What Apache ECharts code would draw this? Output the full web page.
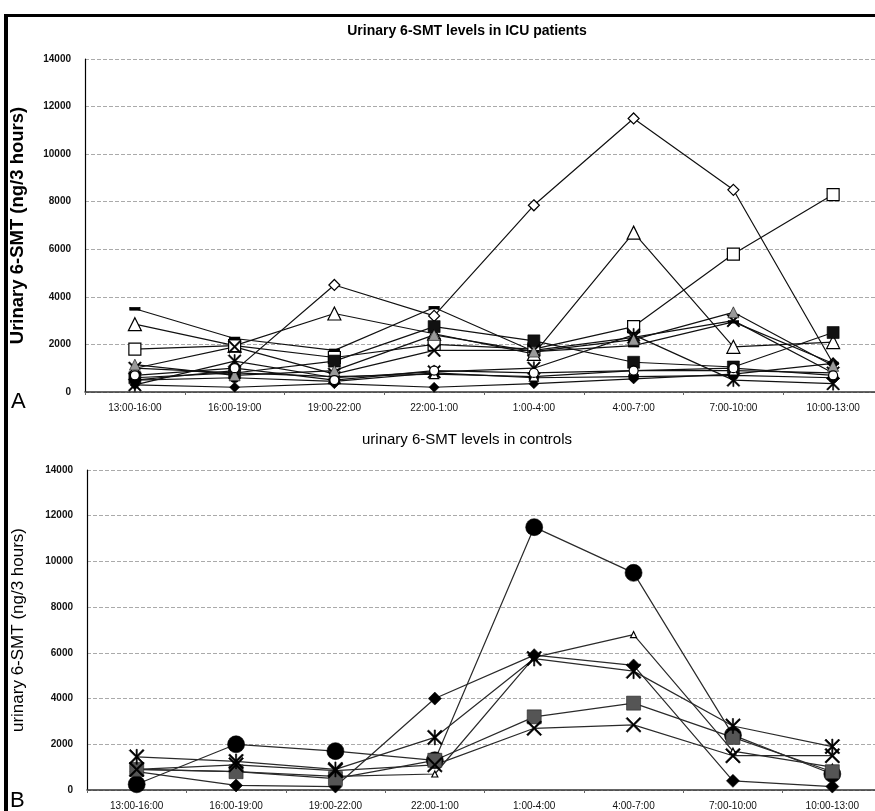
<!DOCTYPE html>
<html>
<head>
<meta charset="utf-8">
<title>Urinary 6-SMT levels</title>
<script src="https://cdn.jsdelivr.net/npm/echarts@6/dist/echarts.min.js"></script>
<style>
  html, body { margin: 0; padding: 0; background: #fff; overflow: hidden; }
  #chart { width: 895px; height: 811px; }
</style>
</head>
<body>
<div id="chart"></div>
<script>
// Collection periods (3-hour urine samples)
const periods = ['13:00-16:00', '16:00-19:00', '19:00-22:00', '22:00-1:00',
                 '1:00-4:00', '4:00-7:00', '7:00-10:00', '10:00-13:00'];
const yTicks = [0, 2000, 4000, 6000, 8000, 10000, 12000, 14000];

// Panel A: ICU patients (ng / 3 hours)
const icuDiamondOpen  = [500, 900, 4500, 3200, 7850, 11500, 8500, 1200];
const icuTriangleOpen = [2850, 1950, 3300, 2450, 1600, 6700, 1900, 2100];
const icuSquareOpen   = [1800, 1950, 1450, 2000, 1800, 2750, 5800, 8300];
const icuDash         = [3500, 2250, 1750, 3550, 1700, 1950, 2950, 1200];
const icuSquareFilled = [600, 800, 1300, 2750, 2150, 1250, 1050, 2500];
const icuCross        = [1000, 1900, 750, 1750, 1750, 2300, 3000, 800];
const icuStar         = [300, 1300, 600, 850, 1000, 2400, 500, 350];
const icuDiamondSmall = [300, 200, 350, 200, 350, 550, 750, 1200];
const icuCircle       = [500, 600, 450, 800, 600, 650, 700, 600];
const icuTriangleSm   = [1000, 800, 650, 750, 650, 900, 900, 800];
const icuGrey         = [1150, 700, 900, 2400, 1700, 2200, 3350, 1100];
const icuCrossCircle  = [700, 1000, 500, 900, 800, 900, 1000, 700];

// Panel B: controls (ng / 3 hours)
const ctlCircle   = [250, 2000, 1700, 1300, 11500, 9500, 2400, 700];
const ctlTriangle = [900, 800, 600, 700, 5800, 6800, 1700, 1000];
const ctlDiamond  = [800, 200, 150, 4000, 5900, 5450, 400, 150];
const ctlSquare   = [900, 800, 500, 1300, 3200, 3800, 2300, 800];
const ctlCross    = [900, 1100, 850, 1100, 2700, 2850, 1500, 1500];
const ctlStar     = [1450, 1250, 900, 2300, 5750, 5200, 2800, 1900];

const X_PATH = 'path://M0,0.08L0.08,0L0.5,0.42L0.92,0L1,0.08L0.58,0.5L1,0.92L0.92,1L0.5,0.58L0.08,1L0,0.92L0.42,0.5Z';
const STAR_PATH = X_PATH + 'M0.46,0L0.54,0L0.54,1L0.46,1Z';

function line(name, data, gi, symbol, size, fill, border) {
  return {
    name, type: 'line', data,
    xAxisIndex: gi, yAxisIndex: gi,
    symbol, symbolSize: size,
    showAllSymbol: true,
    lineStyle: { color: gi === 0 ? '#111' : '#2a2a2a', width: 1.2 },
    itemStyle: { color: fill, borderColor: border || '#000', borderWidth: fill === '#fff' ? 1.2 : 0.6 },
    emphasis: { disabled: true },
    animation: false,
    z: 3
  };
}

const font = '"Liberation Sans", Arial, sans-serif';

function xAxis(gi) {
  return {
    type: 'category', gridIndex: gi, data: periods, boundaryGap: true,
    axisLine: { lineStyle: { color: '#333', width: 1.5 } },
    axisTick: { show: true, length: 3, lineStyle: { color: '#666' } },
    axisLabel: { color: '#111', fontFamily: font, fontSize: 10, margin: 11 },
    splitLine: { show: false }
  };
}
function yAxis(gi, name, bold, size, gap) {
  return {
    type: 'value', gridIndex: gi, min: 0, max: 14000, interval: 2000,
    name, nameLocation: 'middle', nameGap: gap, nameRotate: 90,
    nameTextStyle: { color: '#000', fontFamily: font, fontSize: size, fontWeight: bold ? 'bold' : 'normal' },
    axisLine: { show: true, lineStyle: { color: '#000', width: 1.2 } },
    axisTick: { show: false },
    axisLabel: { color: '#111', fontFamily: font, fontSize: 10, fontWeight: 'bold', margin: 14,
                 formatter: v => yTicks.includes(v) ? String(v) : '' },
    splitLine: { show: true, lineStyle: { color: '#aaa', type: [4, 2], width: 1 } }
  };
}

const chart = echarts.init(document.getElementById('chart'), null, { renderer: 'canvas' });
chart.setOption({
  backgroundColor: '#fff',
  animation: false,
  title: [
    { text: 'Urinary 6-SMT levels in ICU patients', left: 462, top: 19, textAlign: 'center',
      textStyle: { fontFamily: font, fontSize: 14, fontWeight: 'bold', color: '#000' } },
    { text: 'urinary 6-SMT levels in controls', left: 462, top: 427, textAlign: 'center',
      textStyle: { fontFamily: font, fontSize: 15, fontWeight: 'normal', color: '#000' } }
  ],
  grid: [
    { left: 85, top: 59, width: 798, height: 333 },
    { left: 87, top: 470, width: 795, height: 322 }
  ],
  xAxis: [xAxis(0), xAxis(1)],
  yAxis: [yAxis(0, 'Urinary 6-SMT (ng/3 hours)', true, 18.5, 58),
          yAxis(1, 'urinary 6-SMT (ng/3 hours)', false, 17, 60)],
  graphic: [
    { type: 'rect', shape: { x: 4, y: 14, width: 890, height: 3 }, style: { fill: '#000' } },
    { type: 'rect', shape: { x: 4, y: 14, width: 4, height: 800 }, style: { fill: '#000' } },
    { type: 'text', left: 11, top: 391, style: { text: 'A', fontFamily: font, fontSize: 22, fill: '#000' } },
    { type: 'text', left: 10, top: 790, style: { text: 'B', fontFamily: font, fontSize: 22, fill: '#000' } }
  ],
  series: [
    line('ICU 1', icuDiamondOpen, 0, 'diamond', 11, '#fff'),
    line('ICU 2', icuTriangleOpen, 0, 'triangle', 13, '#fff'),
    line('ICU 3', icuSquareOpen, 0, 'rect', 12, '#fff'),
    line('ICU 4', icuDash, 0, 'rect', [10, 3], '#000'),
    line('ICU 5', icuSquareFilled, 0, 'rect', 12, '#111'),
    line('ICU 6', icuCross, 0, X_PATH, 13, '#000'),
    line('ICU 7', icuStar, 0, STAR_PATH, 13, '#000'),
    line('ICU 8', icuDiamondSmall, 0, 'diamond', 10, '#000'),
    line('ICU 9', icuCircle, 0, 'circle', 10, '#000'),
    line('ICU 10', icuTriangleSm, 0, 'triangle', 9, '#fff'),
    line('ICU 11', icuGrey, 0, 'triangle', 11, '#999'),
    line('ICU 12', icuCrossCircle, 0, 'circle', 9, '#fff'),
    line('Control 1', ctlCircle, 1, 'circle', 17, '#000'),
    line('Control 2', ctlTriangle, 1, 'triangle', 6, '#fff'),
    line('Control 3', ctlDiamond, 1, 'diamond', 13, '#000'),
    line('Control 4', ctlSquare, 1, 'rect', 14, '#555', '#222'),
    line('Control 5', ctlCross, 1, X_PATH, 15, '#000'),
    line('Control 6', ctlStar, 1, STAR_PATH, 15, '#000')
  ]
});
</script>
</body>
</html>
